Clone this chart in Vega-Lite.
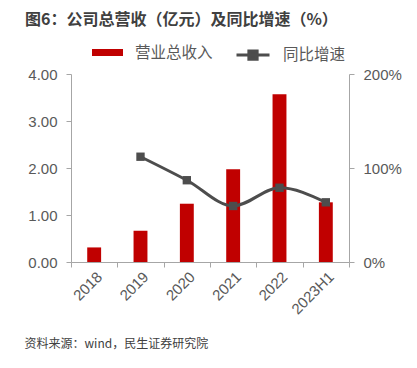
{
  "$schema": "https://vega.github.io/schema/vega-lite/v6.json",
  "width": 278,
  "height": 188,
  "autosize": {"type": "none"},
  "padding": {"left": 71, "top": 74, "right": 68, "bottom": 106},
  "background": "white",
  "title": {
    "text": "图6：公司总营收（亿元）及同比增速（%）",
    "anchor": "start",
    "frame": "group",
    "dx": -46,
    "font": "Noto Sans CJK SC",
    "fontSize": 16,
    "fontWeight": "bold",
    "color": "#404040",
    "offset": 9
  },
  "config": {
    "view": {"stroke": null},
    "axis": {
      "labelFont": "Liberation Sans",
      "labelFontSize": 15,
      "labelColor": "#595959",
      "domainColor": "#a6a6a6",
      "tickColor": "#a6a6a6",
      "grid": false
    },
    "legend": {
      "labelFont": "Noto Sans CJK SC",
      "labelFontSize": 15.5,
      "labelColor": "#595959",
      "padding": 0,
      "orient": "none"
    }
  },
  "data": {
    "values": [
      {"year": "2018", "rev": 0.31, "growth": null},
      {"year": "2019", "rev": 0.665, "growth": 1.12},
      {"year": "2020", "rev": 1.24, "growth": 0.87},
      {"year": "2021", "rev": 1.976, "growth": 0.596},
      {"year": "2022", "rev": 3.57, "growth": 0.79},
      {"year": "2023H1", "rev": 1.27, "growth": 0.635}
    ]
  },
  "encoding": {
    "x": {
      "field": "year",
      "type": "nominal",
      "sort": null,
      "scale": {"paddingInner": 0, "paddingOuter": 0},
      "axis": {
        "labelAngle": -45,
        "tickBand": "extent",
        "tickSize": 5,
        "title": "资料来源：wind，民生证券研究院",
        "titleFont": "Noto Sans CJK SC",
        "titleFontSize": 12,
        "titleFontWeight": "normal",
        "titleColor": "#404040",
        "titleAnchor": "start",
        "titleAlign": "left",
        "titleBaseline": "middle",
        "titleX": -47,
        "titleY": 81
      }
    }
  },
  "layer": [
    {
      "mark": {"type": "bar", "width": {"band": 0.3}},
      "encoding": {
        "y": {
          "field": "rev",
          "type": "quantitative",
          "scale": {"domain": [0, 4]},
          "axis": {
            "title": null,
            "values": [0, 1, 2, 3, 4],
            "format": ".2f",
            "tickSize": 5,
            "labelPadding": 9
          }
        },
        "fill": {
          "datum": "营业总收入",
          "type": "nominal",
          "scale": {"range": ["#c00000"]},
          "legend": {
            "title": null,
            "symbolType": "M-1,-0.226H1V0.226H-1Z",
            "symbolSize": 961,
            "symbolStrokeWidth": 0,
            "labelOffset": 12,
            "legendX": 21,
            "legendY": -37
          }
        }
      }
    },
    {
      "transform": [{"filter": "datum.growth != null"}],
      "layer": [
        {
          "mark": {"type": "line", "interpolate": "monotone", "strokeWidth": 3},
          "encoding": {
            "y": {
              "field": "growth",
              "type": "quantitative",
              "scale": {"domain": [0, 2]},
              "axis": {
                "orient": "right",
                "title": null,
                "values": [0, 1, 2],
                "format": ".0%",
                "tickSize": 5,
                "labelPadding": 9
              }
            },
            "stroke": {
              "datum": "同比增速",
              "type": "nominal",
              "scale": {"range": ["#4d4d4d"]},
              "legend": {
                "title": null,
                "symbolType": "M-1,0H1M-0.25,-0.25H0.25V0.25H-0.25Z",
                "symbolSize": 1089,
                "symbolStrokeWidth": 3,
                "symbolFillColor": "#4d4d4d",
                "labelOffset": 12,
                "legendX": 164,
                "legendY": -37
              }
            }
          }
        },
        {
          "mark": {"type": "square", "size": 70, "color": "#4d4d4d", "opacity": 1},
          "encoding": {
            "y": {"field": "growth", "type": "quantitative", "scale": {"domain": [0, 2]}}
          }
        }
      ]
    }
  ],
  "resolve": {"scale": {"y": "independent", "fill": "independent", "stroke": "independent"}}
}
